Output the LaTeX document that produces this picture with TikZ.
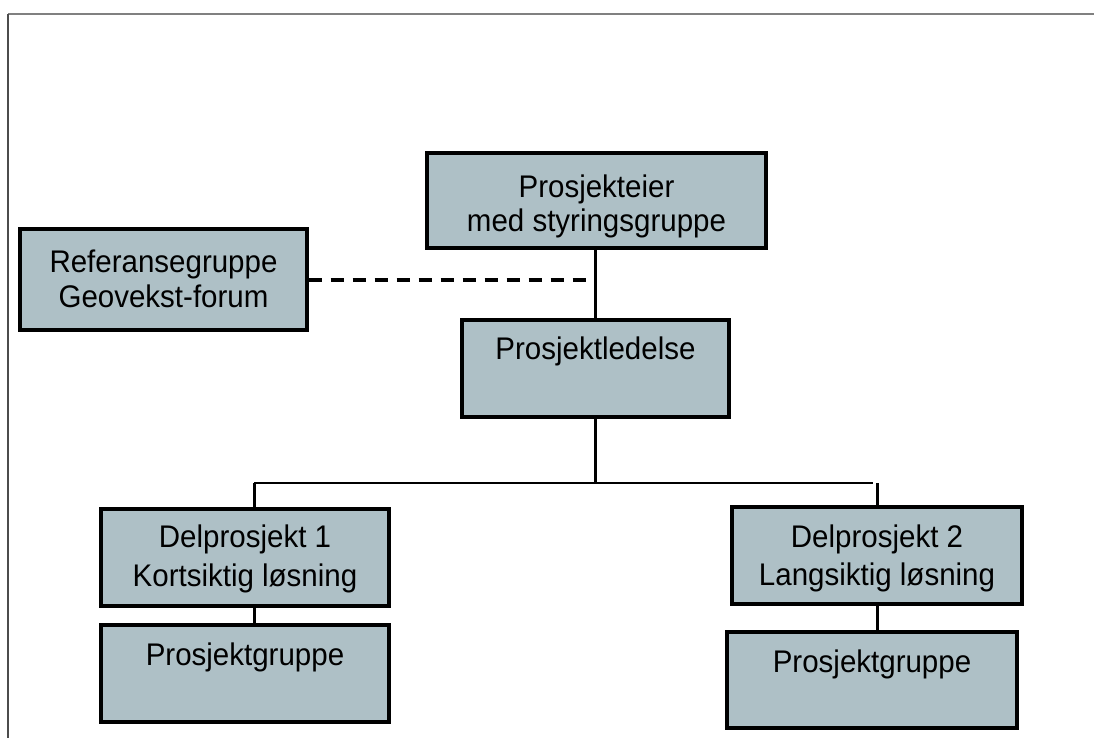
\documentclass[tikz,border=0pt]{standalone}
\usepackage{fontspec}
\setmainfont{Liberation Sans}
\definecolor{boxfill}{RGB}{174,192,198}
\definecolor{framegray}{RGB}{128,128,128}
\newcommand{\tall}[1]{\scalebox{1}[1.06]{#1}}
\begin{document}
\begin{tikzpicture}[x=1pt,y=-1pt,
  orgbox/.style={draw=black,line width=3.2pt,fill=boxfill,rectangle,inner sep=0pt},
  txt/.style={font=\fontsize{29.5}{35}\selectfont,align=center,inner sep=0pt},
  conn/.style={line width=3pt,black},
  bus/.style={line width=2pt,black},
  dashconn/.style={line width=3.2pt,black,dash pattern=on 13pt off 9pt}]
\useasboundingbox (0,0) rectangle (1094,738);
% frame
\draw[framegray,line width=2pt] (8,14) -- (1094,14);
\draw[black!70,line width=2pt] (8,14) -- (8,738);
% boxes
\node[orgbox,minimum width=339pt,minimum height=95pt] (pe) at (596.5,200.5) {};
\node[orgbox,minimum width=287pt,minimum height=101pt] (ref) at (163.5,279.5) {};
\node[orgbox,minimum width=267pt,minimum height=97pt] (pl) at (595.5,368.5) {};
\node[orgbox,minimum width=288pt,minimum height=97pt] (d1) at (245,557.5) {};
\node[orgbox,minimum width=288pt,minimum height=97pt] (g1) at (245,673.5) {};
\node[orgbox,minimum width=290pt,minimum height=97pt] (d2) at (877,555.5) {};
\node[orgbox,minimum width=290pt,minimum height=96pt] (g2) at (872,680) {};
% texts
\node[txt,anchor=base] (tpe1) at (596.5,197) {\tall{Prosjekteier}};
\node[txt,anchor=base] (tpe2) at (596.5,231) {\tall{med styringsgruppe}};
\node[txt,anchor=base] (tref1) at (163.5,272) {\tall{Referansegruppe}};
\node[txt,anchor=base] (tref2) at (163.5,307) {\tall{Geovekst-forum}};
\node[txt,anchor=base] (tpl) at (595.5,359) {\tall{Prosjektledelse}};
\node[txt,anchor=base] (td11) at (245,547) {\tall{Delprosjekt 1}};
\node[txt,anchor=base] (td12) at (245,586) {\tall{Kortsiktig løsning}};
\node[txt,anchor=base] (tg1) at (245,665) {\tall{Prosjektgruppe}};
\node[txt,anchor=base] (td21) at (877,547) {\tall{Delprosjekt 2}};
\node[txt,anchor=base] (td22) at (877,585) {\tall{Langsiktig løsning}};
\node[txt,anchor=base] (tg2) at (872,672) {\tall{Prosjektgruppe}};
% connectors
\coordinate (j) at (595,280);
\coordinate (busl) at (254,483);
\coordinate (busm) at (595,483);
\coordinate (busr) at (877,483);
\draw[conn] (pe.south -| j) -- (pl.north -| j);
\draw[dashconn] (ref.east |- j) -- (j);
\draw[conn] (pl.south -| busm) -- (busm);
\draw[bus] (busl) -- (873,483);
\draw[conn] (busl) -- (d1.north -| busl);
\draw[conn] (busr) -- (d2.north -| busr);
\draw[conn] (d1.south -| busl) -- (g1.north -| busl);
\draw[conn] (d2.south -| busr) -- (g2.north -| busr);
\end{tikzpicture}
\end{document}
